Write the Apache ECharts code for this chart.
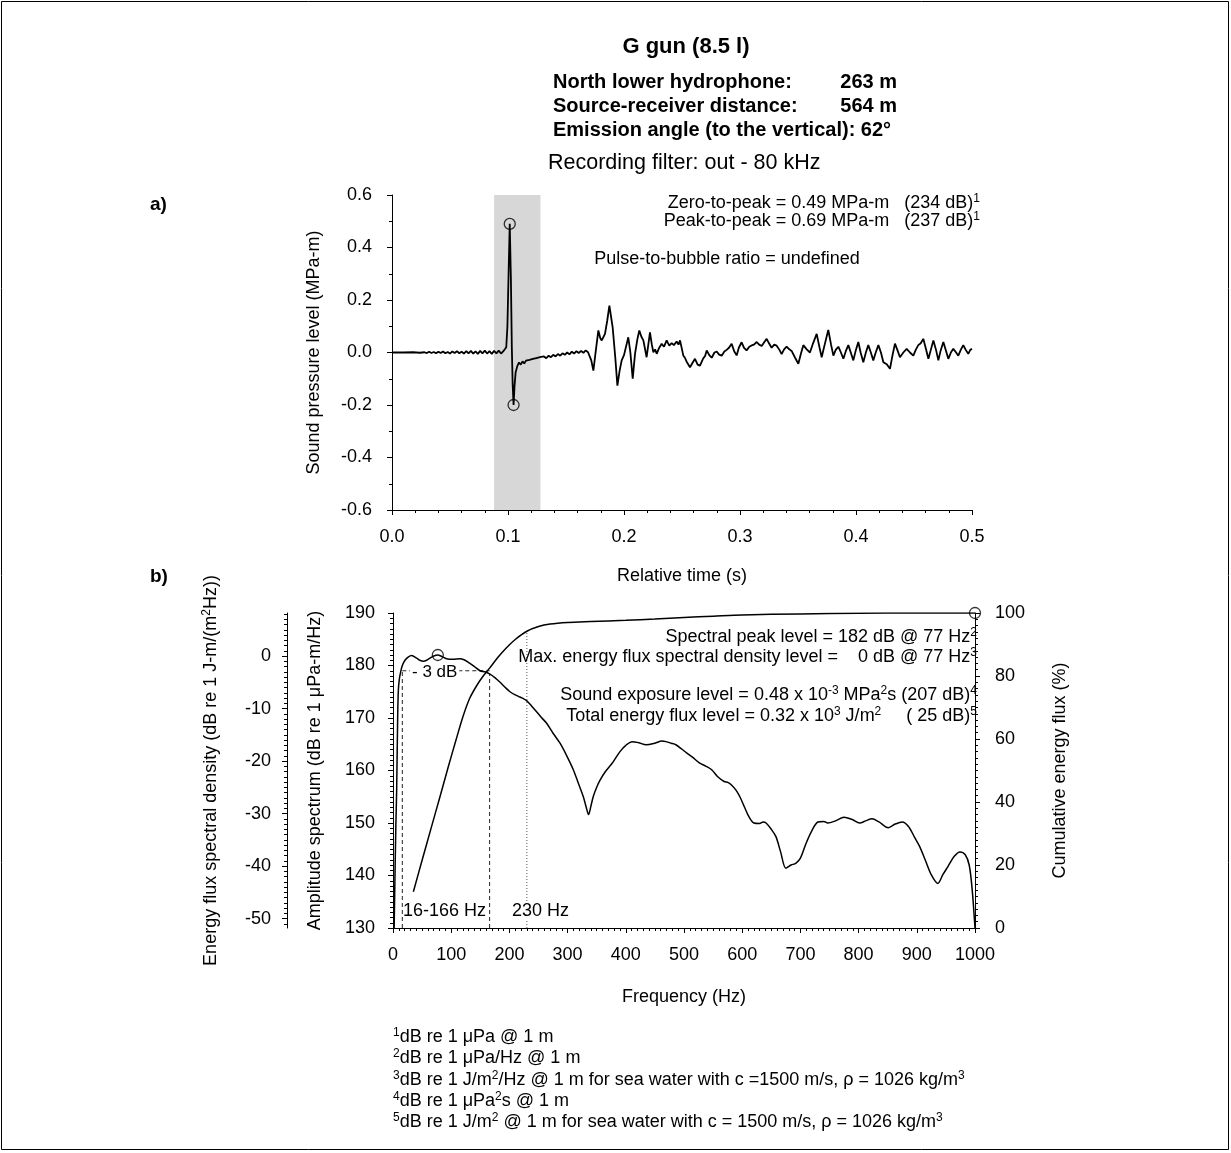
<!DOCTYPE html>
<html>
<head>
<meta charset="utf-8">
<script src="https://cdn.jsdelivr.net/npm/echarts@6/dist/echarts.min.js"></script>
<style>
html,body{margin:0;padding:0;background:#fff;}
#chart{width:1231px;height:1153px;}
</style>
</head>
<body>
<div id="chart"></div>
<script>
// ---------------- DATA ----------------
// a) pressure waveform: [relative time (s), sound pressure level (MPa-m)]
const waveform = [
[0.000,0.000],[0.010,0.000],[0.018,0.001],[0.024,-0.001],[0.028,0.001],[0.030,-0.002],[0.032,0.003],[0.034,-0.002],
[0.036,0.002],[0.038,-0.003],[0.040,0.003],[0.042,-0.002],[0.044,0.004],[0.046,-0.003],[0.048,0.002],[0.050,-0.004],
[0.052,0.004],[0.054,-0.002],[0.056,0.005],[0.058,-0.003],[0.060,0.003],[0.062,-0.004],[0.064,0.005],[0.066,-0.003],
[0.068,0.006],[0.070,-0.004],[0.072,0.004],[0.074,-0.005],[0.076,0.006],[0.078,-0.003],[0.080,0.007],[0.082,-0.004],
[0.084,0.005],[0.086,-0.005],[0.088,0.006],[0.090,-0.003],[0.092,0.007],[0.094,-0.004],[0.096,0.005],[0.0975,0.003],
[0.0985,0.02],[0.0995,0.10],[0.1005,0.30],[0.1015,0.49],[0.1025,0.28],[0.1033,0.02],[0.1040,-0.12],[0.1048,-0.20],
[0.1056,-0.13],[0.1066,-0.075],[0.108,-0.052],[0.1095,-0.038],[0.111,-0.046],[0.1125,-0.034],[0.114,-0.042],[0.1155,-0.031],
[0.117,-0.038],[0.1185,-0.028],[0.120,-0.035],[0.1215,-0.024],[0.123,-0.031],[0.1245,-0.021],[0.126,-0.028],[0.1275,-0.018],
[0.129,-0.025],[0.131,-0.015],[0.133,-0.022],[0.135,-0.012],[0.137,-0.018],[0.139,-0.009],[0.141,-0.015],[0.143,-0.006],
[0.145,-0.012],[0.147,-0.003],[0.149,-0.009],[0.151,0.000],[0.153,-0.007],[0.155,0.003],[0.157,-0.004],[0.159,0.005],
[0.161,-0.002],[0.163,0.006],[0.165,-0.001],[0.167,0.008],[0.169,0.001],[0.1705,0.006],[0.1718,-0.030],[0.1736,-0.069],
[0.1755,0.000],[0.1779,0.084],[0.1795,0.055],[0.1808,0.046],[0.1836,0.071],[0.1855,0.120],[0.1874,0.179],[0.1902,0.097],
[0.1925,-0.020],[0.1943,-0.126],[0.1962,-0.070],[0.1980,-0.030],[0.2000,-0.010],[0.2037,0.058],[0.2055,0.000],[0.2075,-0.100],
[0.2095,-0.005],[0.2115,0.050],[0.2132,0.084],[0.2150,0.060],[0.2167,0.046],[0.2195,-0.018],[0.2224,0.077],[0.2240,0.030],
[0.2253,0.001],[0.2268,0.012],[0.2282,-0.005],[0.2300,0.015],[0.2325,0.033],[0.2345,0.022],[0.2368,0.046],[0.2390,0.026],
[0.2411,0.036],[0.2430,0.028],[0.2454,0.042],[0.2470,0.030],[0.2483,0.046],[0.2511,-0.011],[0.2525,-0.020],[0.2540,-0.035],
[0.2555,-0.028],[0.2569,-0.056],[0.2590,-0.040],[0.2612,-0.024],[0.2635,-0.046],[0.2655,-0.050],[0.2680,-0.025],[0.2700,-0.012],
[0.2713,0.008],[0.2735,-0.010],[0.2756,-0.020],[0.2780,0.000],[0.2799,0.004],[0.2820,-0.008],[0.2842,-0.012],[0.2865,0.004],
[0.2885,0.010],[0.2905,0.018],[0.2928,0.033],[0.2950,0.005],[0.2971,-0.011],[0.2990,0.018],[0.3014,0.039],[0.3035,0.018],
[0.3057,0.008],[0.3080,0.022],[0.3100,0.027],[0.3120,0.030],[0.3144,0.040],[0.3165,0.030],[0.3187,0.025],[0.3210,0.040],
[0.3230,0.052],[0.3250,0.035],[0.3273,0.018],[0.3295,0.030],[0.3316,0.026],[0.3340,0.010],[0.3359,-0.006],[0.3380,0.012],
[0.3402,0.022],[0.3425,0.012],[0.3445,0.006],[0.3475,-0.020],[0.3503,-0.043],[0.3525,-0.005],[0.3546,0.028],[0.3575,0.012],
[0.3603,0.000],[0.3630,0.035],[0.3661,0.071],[0.3685,0.020],[0.3704,-0.018],[0.3730,0.030],[0.3761,0.086],[0.3785,0.030],
[0.3805,-0.012],[0.3825,0.010],[0.3848,0.022],[0.3870,0.000],[0.3891,-0.024],[0.3912,0.005],[0.3934,0.028],[0.3955,0.000],
[0.3977,-0.030],[0.3998,0.008],[0.4020,0.040],[0.4040,0.000],[0.4063,-0.037],[0.4085,0.000],[0.4106,0.028],[0.4128,0.000],
[0.4149,-0.030],[0.4170,0.000],[0.4193,0.028],[0.4215,0.000],[0.4236,-0.037],[0.4265,-0.045],[0.4293,-0.062],[0.4315,-0.010],
[0.4336,0.034],[0.4358,0.008],[0.4379,-0.018],[0.4408,0.000],[0.4437,0.014],[0.4465,0.000],[0.4494,-0.012],[0.4515,0.010],
[0.4537,0.028],[0.4558,0.035],[0.4580,0.052],[0.4602,0.015],[0.4624,-0.024],[0.4645,0.010],[0.4667,0.046],[0.4690,0.010],
[0.4710,-0.030],[0.4730,0.008],[0.4753,0.040],[0.4775,0.008],[0.4796,-0.024],[0.4818,0.000],[0.4839,0.014],[0.4860,0.002],
[0.4882,-0.012],[0.4903,0.010],[0.4925,0.028],[0.4946,0.010],[0.4968,-0.005],[0.4985,0.010],[0.5000,0.014]
];
const waveExtremes = [[0.1015,0.49],[0.1048,-0.20]];   // zero-to-peak and trough markers
const pulseWindow = [0.088, 0.128];                     // shaded analysis window (s)

// b) amplitude spectrum: [frequency (Hz), dB re 1 uPa-m/Hz]
const amplitude = [
[2,130],[3.4,140],[5,150],[6.3,156.3],[8,170],[9.2,175.3],[11,177.5],[13.2,178.8],[16,180],[20.6,181],[26,181.6],
[32,181.9],[40.7,181.4],[46,181.0],[52,180.8],[58,181.0],[63.6,181.4],[70,181.8],[77,182.0],[84,181.7],[92,181.3],
[103,181.2],[115,181.3],[122,181.1],[129.5,180.6],[140,179.8],[149.5,179.0],[158,178.8],[166,178.4],[175,177.7],
[184,176.8],[193,175.8],[201,175.0],[210,174.4],[218,174.0],[224,173.7],[229.5,173.3],[238,172.3],[246.7,171.2],
[255,170.1],[264,169.0],[275,167.1],[287,165.2],[299,162.7],[310,160.1],[318,157.7],[327,155.0],[332,153.0],
[336,151.6],[340,153.2],[344,155.0],[350,156.8],[356,158.2],[365,159.8],[378,161.6],[390,163.6],[400,164.8],
[411,165.5],[422,165.3],[435,164.9],[450,165.2],[462,165.6],[469,165.5],[478,165.2],[486,164.9],[496,164.1],
[505,163.3],[514,162.6],[527,161.4],[538,160.8],[548,160.1],[558,158.8],[569,157.9],[576,157.7],[582,157.2],
[589,156.3],[596,155.0],[604,153.0],[612,151.1],[620,150.0],[630,149.9],[636,150.2],[641,150.0],[650,148.8],
[658,147.4],[666,144.5],[675,141.4],[684,142.0],[692,142.3],[700,143.3],[710,146.2],[720,148.6],[730,150.2],
[740,150.3],[747,150.0],[760,150.4],[775,151.1],[788,150.7],[802,150.0],[812,150.4],[823,150.8],[835,150.2],
[851,149.1],[863,149.8],[875,150.2],[886,149.3],[896,147.3],[905,145.5],[915,142.8],[925,140.1],[936,138.5],
[945,140.2],[954,141.8],[964,143.6],[974,144.5],[983,144.0],[990,142.0],[995,137.5],[1000,130.0]
];
// b) cumulative energy flux: [frequency (Hz), %]
const cumulative = [
[35,11.5],[50,21.5],[65,31.4],[80,41.2],[95,51.2],[108,59.5],[120,67.0],[132,73.0],[145,77.3],[155,80.0],
[166,82.5],[180,85.9],[195,89.0],[210,91.6],[230,94.2],[250,95.7],[270,96.5],[300,97.0],[340,97.3],[400,97.7],
[450,98.1],[500,98.6],[550,99.0],[600,99.4],[700,99.7],[800,99.9],[900,100],[1000,100]
];
const spectralPeak = [[77,182]];
const cumulativeEnd = [[1000,100]];
const band3dB = [16,166];      // -3 dB bandwidth (Hz)
const level3dB = 179;          // peak - 3 dB
const crossLevel166 = 178.4;   // spectrum level at 166 Hz
const freq95 = 230;            // 230 Hz marker
const cum95 = 94.2;            // cumulative % at 230 Hz
const ampMin = 130, ampMax = 190;
const efluxOffset = 181.8;     // amplitude dB corresponding to 0 dB energy flux density
const efluxLabels = [-50,-40,-30,-20,-10,0];

// ---------------- CHART ----------------
const FONT = '"Liberation Sans", Arial, Helvetica, sans-serif';
const FS = 18;
const chart = echarts.init(document.getElementById('chart'), null, {renderer:'canvas'});

function ax(extra){
  const base = {
    type:'value',
    axisLine:{show:true,onZero:false,lineStyle:{color:'#000',width:1}},
    axisTick:{show:true,length:5,lineStyle:{color:'#000',width:1}},
    minorTick:{show:false},
    splitLine:{show:false},
    minorSplitLine:{show:false},
    axisLabel:{color:'#000',fontSize:FS,fontFamily:FONT,margin:18},
    nameLocation:'middle',
    nameTextStyle:{color:'#000',fontSize:FS,fontFamily:FONT}
  };
  for (const k in extra){
    if (base[k] && typeof base[k]==='object' && !Array.isArray(base[k]) && typeof extra[k]==='object')
      base[k] = Object.assign({}, base[k], extra[k]);
    else base[k] = extra[k];
  }
  return base;
}
const minor = n => ({show:true,splitNumber:n,length:3,lineStyle:{color:'#000',width:1}});
const supRich = {
  sup:{fontSize:12,lineHeight:12,fontFamily:FONT,color:'#000',verticalAlign:'top'}
};

const intTicks = [];
for (let v=-51; v<=8; v++) intTicks.push(v);

const option = {
  backgroundColor:'#fff',
  animation:false,
  grid:[
    {left:392,top:195,width:580,height:315},
    {left:393,top:613,width:582,height:315}
  ],
  xAxis:[
    ax({gridIndex:0,min:0,max:0.5,interval:0.1,minorTick:minor(5),
        axisLabel:{formatter:v=>v.toFixed(1)},
        name:'Relative time (s)',nameGap:57}),
    ax({gridIndex:1,min:0,max:1000,interval:100,minorTick:minor(10),
        axisLabel:{formatter:v=>String(v)},
        name:'Frequency (Hz)',nameGap:60})
  ],
  yAxis:[
    ax({gridIndex:0,min:-0.6,max:0.6,interval:0.2,minorTick:minor(2),
        axisLabel:{formatter:v=>v.toFixed(1),margin:20},
        name:'Sound pressure level (MPa-m)',nameGap:69}),
    ax({gridIndex:1,min:ampMin,max:ampMax,interval:10,position:'left',minorTick:minor(10),
        name:'Amplitude spectrum (dB re 1 \u03bcPa-m/Hz)',nameGap:69}),
    ax({gridIndex:1,min:ampMin-efluxOffset,max:ampMax-efluxOffset,position:'left',offset:106,
        axisTick:{customValues:efluxLabels,length:5},
        axisLabel:{customValues:efluxLabels,margin:16},
        name:'Energy flux spectral density (dB re 1 J-m/(m{sup|2}Hz))',nameGap:66,
        nameTextStyle:{rich:supRich,lineHeight:20}}),
    ax({gridIndex:1,min:0,max:100,interval:20,position:'right',minorTick:minor(10),
        axisLabel:{margin:20},
        name:'Cumulative energy flux (%)',nameGap:76}),
    ax({gridIndex:1,min:ampMin-efluxOffset,max:ampMax-efluxOffset,position:'left',offset:106,
        axisLine:{show:false},axisLabel:{show:false},
        axisTick:{customValues:intTicks,length:3}})
  ],
  series:[
    {type:'line',xAxisIndex:0,yAxisIndex:0,data:waveform,showSymbol:false,
     lineStyle:{color:'#000',width:1.8},z:3,
     markArea:{silent:true,itemStyle:{color:'#d7d7d7'},
       data:[[{xAxis:pulseWindow[0]},{xAxis:pulseWindow[1]}]]}},
    {type:'scatter',xAxisIndex:0,yAxisIndex:0,data:waveExtremes,symbol:'circle',symbolSize:11,clip:false,
     itemStyle:{color:'rgba(0,0,0,0)',borderColor:'#000',borderWidth:1.3},z:4},
    {type:'line',xAxisIndex:1,yAxisIndex:1,data:amplitude,showSymbol:false,smooth:0.3,
     lineStyle:{color:'#000',width:1.5},z:3},
    {type:'line',xAxisIndex:1,yAxisIndex:3,data:cumulative,showSymbol:false,smooth:0.3,
     lineStyle:{color:'#000',width:1.5},z:3},
    {type:'scatter',xAxisIndex:1,yAxisIndex:1,data:spectralPeak,symbol:'circle',symbolSize:11,clip:false,
     itemStyle:{color:'rgba(0,0,0,0)',borderColor:'#000',borderWidth:1.3},z:4},
    {type:'scatter',xAxisIndex:1,yAxisIndex:3,data:cumulativeEnd,symbol:'circle',symbolSize:11,clip:false,
     itemStyle:{color:'rgba(0,0,0,0)',borderColor:'#000',borderWidth:1.3},z:4},
    {type:'line',xAxisIndex:1,yAxisIndex:1,data:[[band3dB[0],ampMin],[band3dB[0],level3dB]],showSymbol:false,
     lineStyle:{color:'#222',width:1,type:[4,3]},z:2},
    {type:'line',xAxisIndex:1,yAxisIndex:1,data:[[band3dB[0],level3dB],[band3dB[1],level3dB]],showSymbol:false,
     lineStyle:{color:'#222',width:1,type:[4,3]},z:2},
    {type:'line',xAxisIndex:1,yAxisIndex:1,data:[[band3dB[1],ampMin],[band3dB[1],crossLevel166]],showSymbol:false,
     lineStyle:{color:'#222',width:1,type:[4,3]},z:2},
    {type:'line',xAxisIndex:1,yAxisIndex:3,data:[[freq95,0],[freq95,cum95]],showSymbol:false,
     lineStyle:{color:'#555',width:1,type:[1,2]},z:2}
  ],
  graphic:[
    {type:'rect',z:0,silent:true,shape:{x:1.5,y:1.5,width:1227,height:1148},style:{fill:'none',stroke:'#000',lineWidth:1}},
    txt('G gun (8.5 l)',686,47,{fontSize:22,fontWeight:'bold',align:'center'}),
    txt('North lower hydrophone:',553,82,{fontSize:20,fontWeight:'bold'}),
    txt('263 m',897,82,{fontSize:20,fontWeight:'bold',align:'right'}),
    txt('Source-receiver distance:',553,106,{fontSize:20,fontWeight:'bold'}),
    txt('564 m',897,106,{fontSize:20,fontWeight:'bold',align:'right'}),
    txt('Emission angle (to the vertical): 62\u00b0',553,130,{fontSize:20,fontWeight:'bold'}),
    txt('Recording filter: out - 80 kHz',548,163,{fontSize:21.5}),
    txt('a)',150,205,{fontSize:19,fontWeight:'bold'}),
    txt('b)',150,577,{fontSize:19,fontWeight:'bold'}),
    txt('Zero-to-peak = 0.49 MPa-m   (234 dB){sup|1}',980,203,{fontSize:FS,align:'right'}),
    txt('Peak-to-peak = 0.69 MPa-m   (237 dB){sup|1}',980,221,{fontSize:FS,align:'right'}),
    txt('Pulse-to-bubble ratio = undefined',727,259,{fontSize:FS,align:'center'}),
    txt('Spectral peak level = 182 dB @ 77 Hz{sup|2}',977,637,{fontSize:FS,align:'right'}),
    txt('Max. energy flux spectral density level =    0 dB @ 77 Hz{sup|3}',977,657,{fontSize:FS,align:'right'}),
    txt('Sound exposure level = 0.48 x 10{sup|-3} MPa{sup|2}s (207 dB){sup|4}',977,695,{fontSize:FS,align:'right'}),
    txt('Total energy flux level = 0.32 x 10{sup|3} J/m{sup|2}     ( 25 dB){sup|5}',977,716,{fontSize:FS,align:'right'}),
    txt('- 3 dB',410,672,{fontSize:17,backgroundColor:'#fff',padding:[0,2,0,2]}),
    txt('16-166 Hz',403,911,{fontSize:FS,backgroundColor:'#fff'}),
    txt('230 Hz',512,911,{fontSize:FS,backgroundColor:'#fff'}),
    txt('{sup|1}dB re 1 \u03bcPa @ 1 m',393,1037,{fontSize:FS}),
    txt('{sup|2}dB re 1 \u03bcPa/Hz @ 1 m',393,1058,{fontSize:FS}),
    txt('{sup|3}dB re 1 J/m{sup|2}/Hz @ 1 m for sea water with c =1500 m/s, \u03c1 = 1026 kg/m{sup|3}',393,1080,{fontSize:FS}),
    txt('{sup|4}dB re 1 \u03bcPa{sup|2}s @ 1 m',393,1101,{fontSize:FS}),
    txt('{sup|5}dB re 1 J/m{sup|2} @ 1 m for sea water with c = 1500 m/s, \u03c1 = 1026 kg/m{sup|3}',393,1122,{fontSize:FS})
  ]
};

function txt(text,x,y,o){
  const style = {
    text:text, x:0, y:0,
    fontSize:o.fontSize||FS, fontWeight:o.fontWeight||'normal', fontFamily:FONT,
    fill:'#000', lineHeight:(o.fontSize||FS)+2,
    align:o.align||'left', verticalAlign:'middle',
    textAlign:o.align||'left', textVerticalAlign:'middle',
    rich:supRich
  };
  if (o.backgroundColor) style.backgroundColor = o.backgroundColor;
  if (o.padding) style.padding = o.padding;
  return {type:'text',x:x,y:y,z:100,silent:true,style:style};
}

chart.setOption(option);
</script>
</body>
</html>
